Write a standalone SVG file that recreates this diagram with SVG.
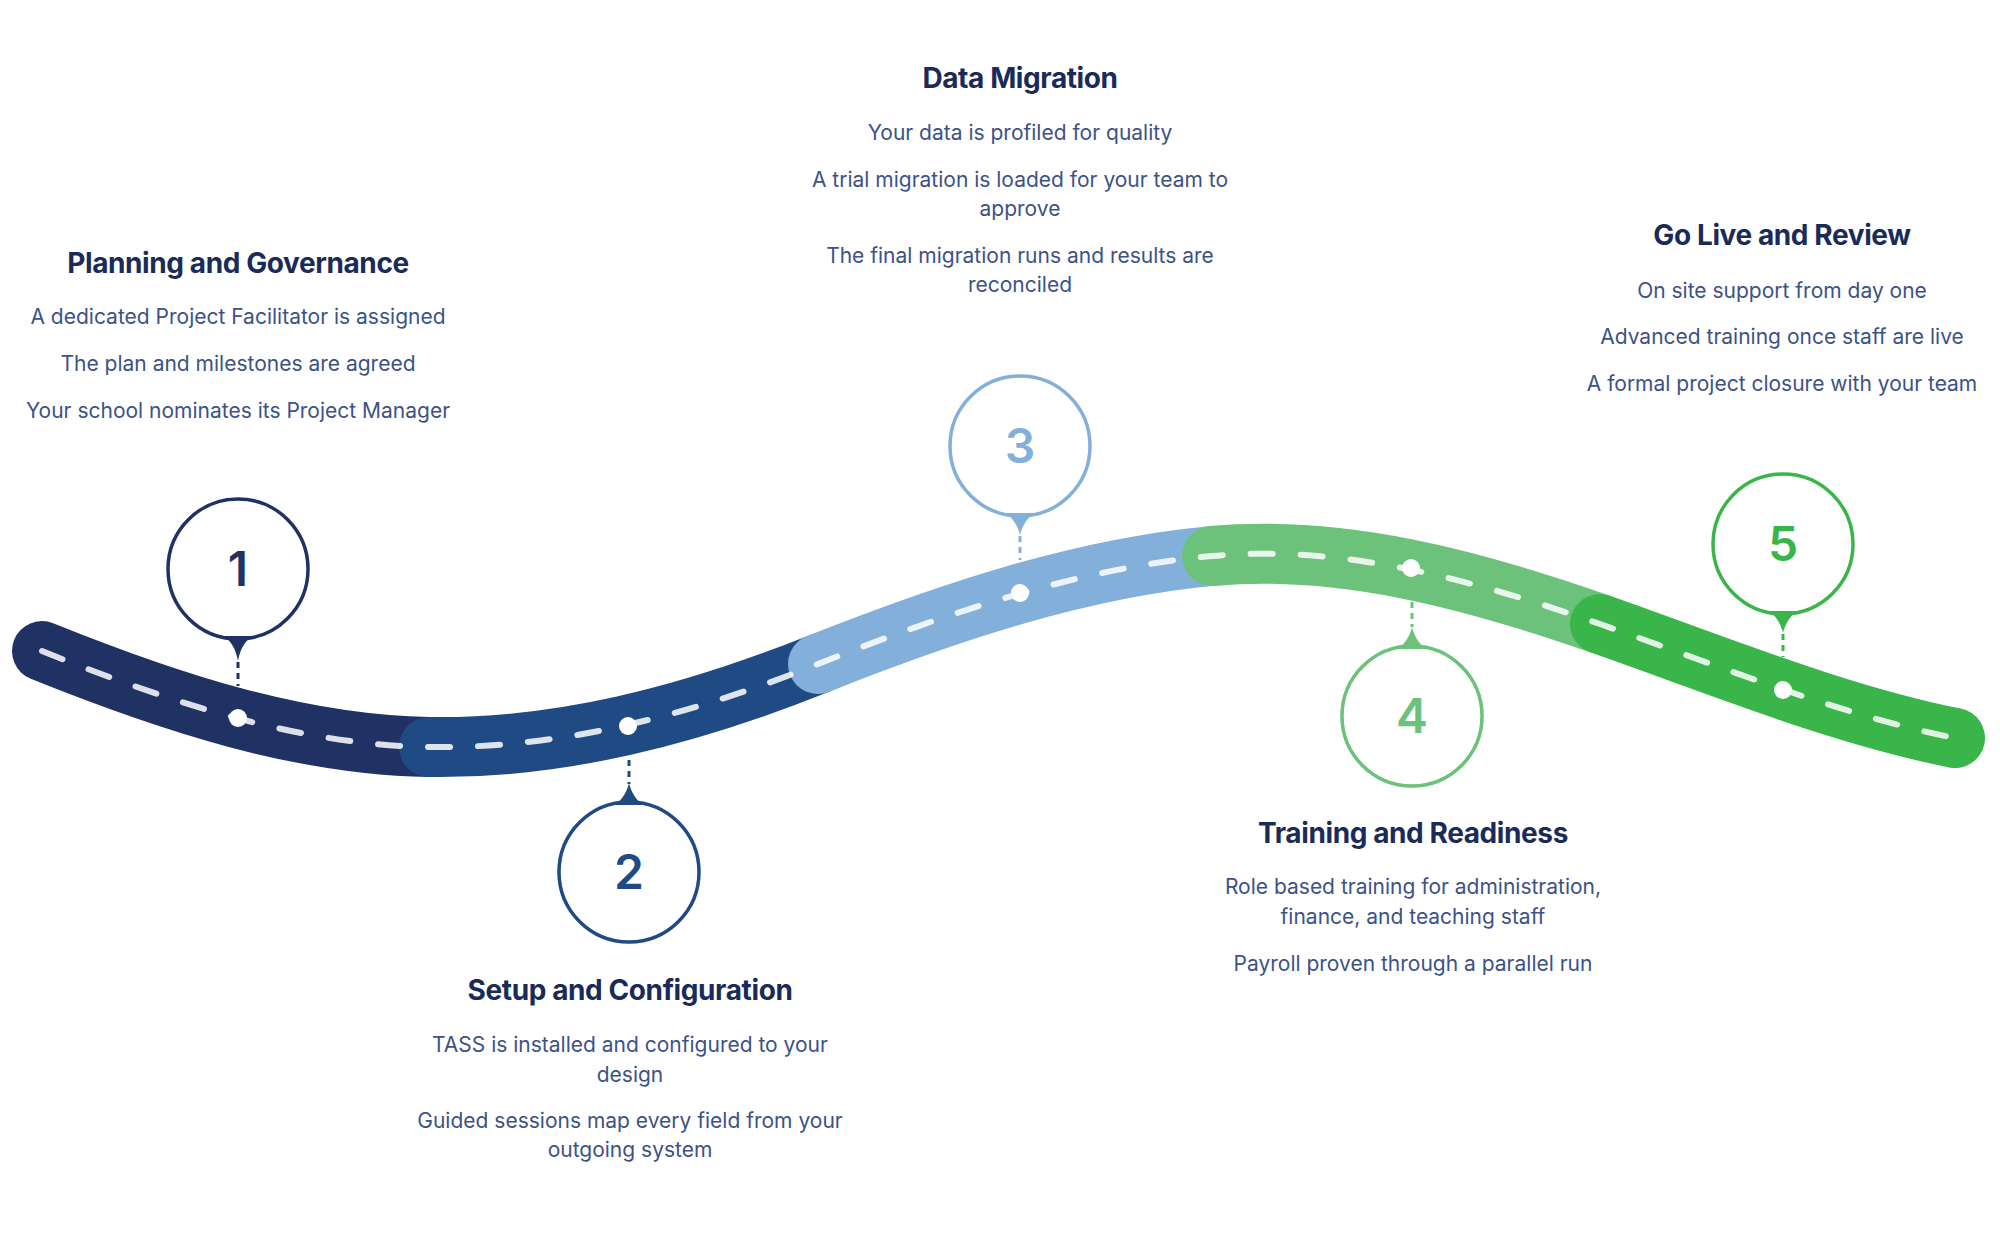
<svg xmlns="http://www.w3.org/2000/svg" width="2000" height="1257" viewBox="0 0 2000 1257">
<style>
text{font-family:Inter,"Noto Sans","Liberation Sans",sans-serif;text-anchor:middle}
.h{font-size:28px;font-weight:700;fill:#1b2b59;letter-spacing:-0.4px}
.b{font-size:21px;font-weight:400;fill:#3c5287}
.n{font-size:48px;font-weight:600}
.road{fill:none;stroke-width:60;stroke-linecap:round}
.ring{fill:#fff;stroke-width:3.5}
.stem{fill:none;stroke-width:3;stroke-dasharray:6 5}
.dot{fill:#fff}
</style>
<rect width="2000" height="1257" fill="#fff"/>
<g id="road">
<path class="road" stroke="#1f3263" d="M42,651 C171,703 300,745 429,747"/>
<path class="road" stroke="#204a83" d="M429,747 C559,749 688,716 818,664"/>
<path class="road" stroke="#83afdb" d="M818,664 C949,612 1081,568 1212,556"/>
<path class="road" stroke="#6cc27a" d="M1212,556 C1341,544.4 1471,578.9 1600,624"/>
<path class="road" stroke="#3ab54a" d="M1600,624 C1718,665.3 1837,714.4 1955,738"/>
<path fill="none" stroke="#fff" stroke-opacity="0.85" stroke-width="6" stroke-linecap="round" stroke-dasharray="22 28" d="M42,651 C171,703 300,745 429,747 C559,749 688,716 818,664 C949,612 1081,568 1212,556 C1341,544.4 1471,578.9 1600,624 C1718,665.3 1837,714.4 1955,738"/>
</g>
<g id="step1">
<line class="stem" stroke="#1f3263" x1="238" y1="662" x2="238" y2="686"/>
<circle class="ring" stroke="#1f3263" cx="238" cy="569" r="70"/>
<path fill="#1f3263" d="M224,636 C232,642 236,650 238,661 C240,650 244,642 252,636 Z"/>
<text class="n" fill="#1f3263" x="238" y="586">1</text>
<circle class="dot" cx="238" cy="718" r="9"/>
<text class="h" x="238" y="273">Planning and Governance</text>
<text class="b" x="238" y="324">A dedicated Project Facilitator is assigned</text>
<text class="b" x="238" y="371">The plan and milestones are agreed</text>
<text class="b" x="238" y="418">Your school nominates its Project Manager</text>
</g>
<g id="step2">
<line class="stem" stroke="#204a83" x1="629" y1="760" x2="629" y2="784"/>
<circle class="ring" stroke="#204a83" cx="629" cy="872" r="70"/>
<path fill="#204a83" d="M615,805 C623,799 627,791 629,783 C631,791 635,799 643,805 Z"/>
<text class="n" fill="#204a83" x="629" y="889">2</text>
<circle class="dot" cx="628" cy="726" r="9"/>
<text class="h" x="630" y="1000">Setup and Configuration</text>
<text class="b" x="630" y="1052">TASS is installed and configured to your</text>
<text class="b" x="630" y="1082">design</text>
<text class="b" x="630" y="1128">Guided sessions map every field from your</text>
<text class="b" x="630" y="1157">outgoing system</text>
</g>
<g id="step3">
<line class="stem" stroke="#83afdb" x1="1020" y1="536" x2="1020" y2="560"/>
<circle class="ring" stroke="#83afdb" cx="1020" cy="446" r="70"/>
<path fill="#83afdb" d="M1006,513 C1014,519 1018,527 1020,535 C1022,527 1026,519 1034,513 Z"/>
<text class="n" fill="#83afdb" x="1020" y="463">3</text>
<circle class="dot" cx="1020" cy="593" r="9"/>
<text class="h" x="1020" y="88">Data Migration</text>
<text class="b" x="1020" y="140">Your data is profiled for quality</text>
<text class="b" x="1020" y="187">A trial migration is loaded for your team to</text>
<text class="b" x="1020" y="216">approve</text>
<text class="b" x="1020" y="263">The final migration runs and results are</text>
<text class="b" x="1020" y="292">reconciled</text>
</g>
<g id="step4">
<line class="stem" stroke="#6cc27a" x1="1412" y1="602" x2="1412" y2="627"/>
<circle class="ring" stroke="#6cc27a" cx="1412" cy="716" r="70"/>
<path fill="#6cc27a" d="M1398,649 C1406,643 1410,635 1412,627 C1414,635 1418,643 1426,649 Z"/>
<text class="n" fill="#6cc27a" x="1412" y="733">4</text>
<circle class="dot" cx="1411" cy="568" r="9"/>
<text class="h" x="1413" y="843">Training and Readiness</text>
<text class="b" x="1413" y="894">Role based training for administration,</text>
<text class="b" x="1413" y="924">finance, and teaching staff</text>
<text class="b" x="1413" y="971">Payroll proven through a parallel run</text>
</g>
<g id="step5">
<line class="stem" stroke="#3ab54a" x1="1783" y1="634" x2="1783" y2="657"/>
<circle class="ring" stroke="#3ab54a" cx="1783" cy="544" r="70"/>
<path fill="#3ab54a" d="M1769,611 C1777,617 1781,625 1783,633 C1785,625 1789,617 1797,611 Z"/>
<text class="n" fill="#3ab54a" x="1783" y="561">5</text>
<circle class="dot" cx="1783" cy="690" r="9"/>
<text class="h" x="1782" y="245">Go Live and Review</text>
<text class="b" x="1782" y="298">On site support from day one</text>
<text class="b" x="1782" y="344">Advanced training once staff are live</text>
<text class="b" x="1782" y="391">A formal project closure with your team</text>
</g>
</svg>
